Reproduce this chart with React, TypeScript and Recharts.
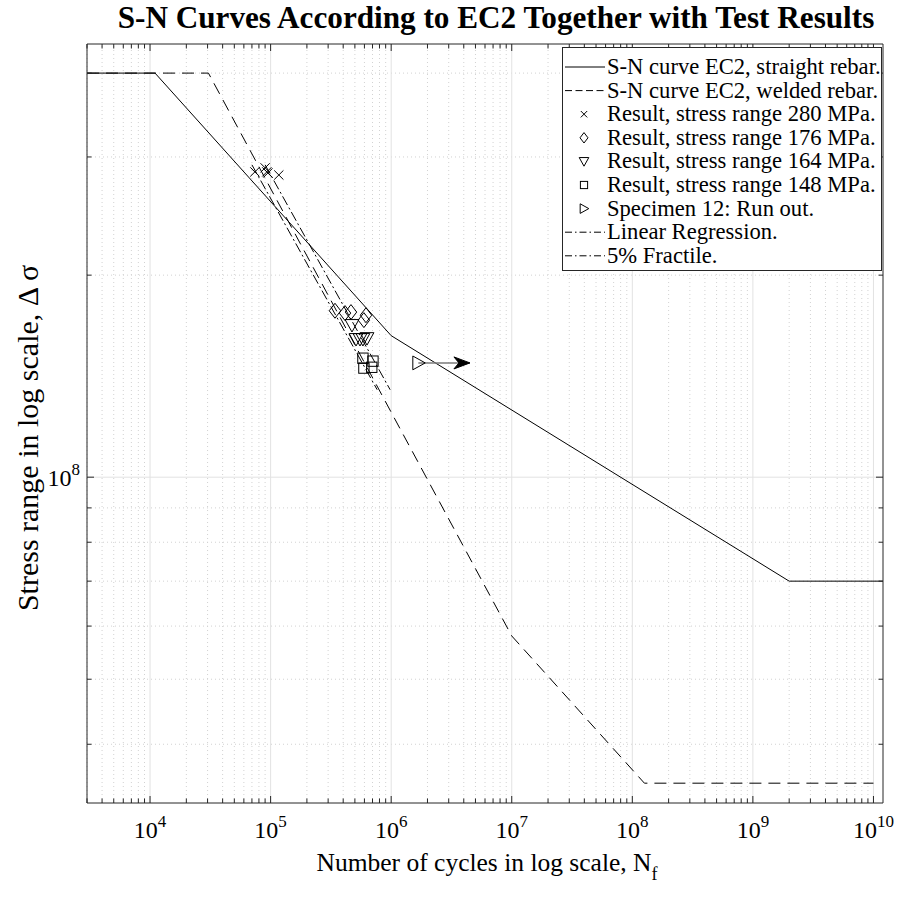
import React from "react";
import {
  ComposedChart,
  Line,
  Scatter,
  XAxis,
  YAxis,
  ReferenceLine,
  Legend,
} from "recharts";

const FONT = '"Liberation Serif", "Times New Roman", serif';
const INK = "#262626";

// axes
const xDomain = [3e3, 1.2e10];
const yDomain = [3.27e7, 4.42e8];
const xMajor = [1e4, 1e5, 1e6, 1e7, 1e8, 1e9, 1e10];
const xDecades = [1e3, 1e4, 1e5, 1e6, 1e7, 1e8, 1e9];
const minorSteps = [2, 3, 4, 5, 6, 7, 8, 9];
const xMinor = xDecades
  .flatMap((d) => minorSteps.map((m) => m * d))
  .filter((v) => v >= xDomain[0] && v <= xDomain[1]);
const yMajor = [1e8];
const yMinor = [4e7, 5e7, 6e7, 7e7, 8e7, 9e7, 2e8, 3e8, 4e8];

// EC2 S-N curves
const straightN = [3e3, 1.1e4, 1e6, 2e9, 1.2e10];
const straightS = [4e8, 4e8, 1.625e8, 7e7, 7e7];
const weldedN = [3e3, 3.05e4, 1e7, 1.26e8, 1e10];
const weldedS = [4e8, 4e8, 5.8e7, 3.5e7, 3.5e7];

// test results
const s280N = [7.4e4, 9.0e4, 9.3e4, 9.5e4, 1.17e5];
const s280S = [2.85e8, 2.89e8, 2.85e8, 2.84e8, 2.82e8];
const s176N = [3.42e5, 4.14e5, 4.64e5, 5.94e5, 6.18e5];
const s176S = [1.77e8, 1.756e8, 1.762e8, 1.714e8, 1.743e8];
const s164N = [4.73e5, 5.11e5, 5.51e5, 5.83e5, 6.3e5];
const s164S = [1.685e8, 1.606e8, 1.606e8, 1.606e8, 1.611e8];
const s148N = [5.83e5, 5.94e5, 7.06e5, 6.9e5];
const s148S = [1.504e8, 1.454e8, 1.489e8, 1.458e8];
const runoutN = [1.68e6];
const runoutS = [1.48e8];
const arrowN = [1.68e6, 4.5e6];
const arrowS = [1.48e8, 1.48e8];

// fits
const regN = [9.0e4, 9.8e5];
const regS = [2.92e8, 1.35e8];
const fracN = [7.0e4, 7.65e5];
const fracS = [2.92e8, 1.35e8];

const legendRows = [
  { label: "S-N curve EC2, straight rebar.", kind: "solid" },
  { label: "S-N curve EC2, welded rebar.", kind: "dashed" },
  { label: "Result, stress range 280 MPa.", kind: "x" },
  { label: "Result, stress range 176 MPa.", kind: "diamond" },
  { label: "Result, stress range 164 MPa.", kind: "tridown" },
  { label: "Result, stress range 148 MPa.", kind: "square" },
  { label: "Specimen 12: Run out.", kind: "triright" },
  { label: "Linear Regression.", kind: "dashdot" },
  { label: "5% Fractile.", kind: "dashdot" },
];

const pts = (xs: number[], ys: number[]) => xs.map((x, i) => ({ x, y: ys[i] }));

const DASH = "12 7";
const DASHDOT = "10 3 2 3";

function Marker({ kind, cx, cy, s = 1 }: any) {
  const common = { stroke: "#000", strokeWidth: 1, fill: "none" };
  if (kind === "x") {
    const r = 4 * s;
    return (
      <path
        {...common}
        d={`M${cx - r},${cy - r}L${cx + r},${cy + r}M${cx - r},${cy + r}L${cx + r},${cy - r}`}
      />
    );
  }
  if (kind === "diamond") {
    const w = 5 * s, h = 6.5 * s;
    return <path {...common} d={`M${cx},${cy - h}L${cx + w},${cy}L${cx},${cy + h}L${cx - w},${cy}Z`} />;
  }
  if (kind === "tridown") {
    const r = 6 * s;
    return <path {...common} d={`M${cx - r},${cy - r * 0.8}L${cx + r},${cy - r * 0.8}L${cx},${cy + r}Z`} />;
  }
  if (kind === "square") {
    const r = 4.5 * s;
    return <rect {...common} x={cx - r} y={cy - r} width={2 * r} height={2 * r} />;
  }
  if (kind === "triright") {
    const r = 6 * s;
    return <path {...common} d={`M${cx - r * 0.8},${cy - r}L${cx + r},${cy}L${cx - r * 0.8},${cy + r}Z`} />;
  }
  return <g />;
}

const shape = (kind: string) => (p: any) => <Marker kind={kind} cx={p.cx} cy={p.cy} s={1.15} />;

const isMajorX = (v: number) => xMajor.includes(v);
const isMajorY = (v: number) => yMajor.includes(v);
const expOf = (v: number) => Math.round(Math.log10(v));

function BottomTick({ x, y, payload }: any) {
  const major = isMajorX(payload.value);
  return (
    <g>
      <line x1={x} x2={x} y1={y} y2={y - (major ? 7 : 4.5)} stroke={INK} />
      {major && (
        <text x={x} y={y + 35} textAnchor="middle" fontFamily={FONT} fontSize={24} fill="#000">
          10
          <tspan dy={-11} fontSize={17}>
            {expOf(payload.value)}
          </tspan>
        </text>
      )}
    </g>
  );
}

function TopTick({ x, y, payload }: any) {
  const major = isMajorX(payload.value);
  return <line x1={x} x2={x} y1={y} y2={y + (major ? 7 : 4.5)} stroke={INK} />;
}

function LeftTick({ x, y, payload }: any) {
  const major = isMajorY(payload.value);
  return (
    <g>
      <line x1={x} x2={x + (major ? 7 : 4.5)} y1={y} y2={y} stroke={INK} />
      {major && (
        <text x={x - 7} y={y + 9} textAnchor="end" fontFamily={FONT} fontSize={24} fill="#000">
          10
          <tspan dy={-11} fontSize={17}>
            {expOf(payload.value)}
          </tspan>
        </text>
      )}
    </g>
  );
}

function RightTick({ x, y, payload }: any) {
  const major = isMajorY(payload.value);
  return <line x1={x} x2={x - (major ? 7 : 4.5)} y1={y} y2={y} stroke={INK} />;
}

function ArrowDot(p: any) {
  if (p.index !== 1) return <g key={`a${p.index}`} />;
  const { cx, cy } = p;
  return (
    <path
      key="arrowhead"
      d={`M${cx},${cy}L${cx - 16},${cy - 6}L${cx - 11},${cy}L${cx - 16},${cy + 6}Z`}
      fill="#000"
      stroke="#000"
    />
  );
}

function LegendBox() {
  const w = 320, h = 224;
  return (
    <svg width={w} height={h} style={{ display: "block" }}>
      <rect x={0.5} y={0.5} width={w - 1} height={h - 1} fill="#fff" stroke={INK} />
      {legendRows.map((r, i) => {
        const cy = 20 + i * 23.6;
        const lineKinds = ["solid", "dashed", "dashdot"];
        return (
          <g key={r.label}>
            {lineKinds.includes(r.kind) ? (
              <line
                x1={3}
                x2={43}
                y1={cy}
                y2={cy}
                stroke="#000"
                strokeDasharray={r.kind === "dashed" ? "7 3.5" : r.kind === "dashdot" ? "7 3 1.5 3" : undefined}
              />
            ) : (
              <Marker kind={r.kind} cx={22} cy={cy} s={0.8} />
            )}
            <text x={45} y={cy + 7} fontFamily={FONT} fontSize={22.6} fill="#000">
              {r.label}
            </text>
          </g>
        );
      })}
    </svg>
  );
}

export default function App() {
  const allX = [...xMajor, ...xMinor].sort((a, b) => a - b);
  const allY = [...yMinor, ...yMajor].sort((a, b) => a - b);
  const axisCommon = {
    type: "number" as const,
    scale: "log" as const,
    allowDataOverflow: true,
    interval: 0 as const,
    tickSize: 0,
    tickMargin: 0,
    tickLine: false,
    axisLine: { stroke: INK, strokeWidth: 1 },
  };
  return (
    <div style={{ position: "absolute", left: 0, top: 0, width: 907, height: 913, background: "#fff" }}>
      <ComposedChart width={907} height={913} margin={{ top: 43, right: 23, bottom: 109, left: 86 }}>
        {xMinor.map((v) => (
          <ReferenceLine key={`gx${v}`} x={v} stroke="#d2d2d2" strokeDasharray="1 3" />
        ))}
        {yMinor.map((v) => (
          <ReferenceLine key={`gy${v}`} y={v} stroke="#d2d2d2" strokeDasharray="1 3" />
        ))}
        {xMajor.map((v) => (
          <ReferenceLine key={`GX${v}`} x={v} stroke="#e2e2e2" />
        ))}
        {yMajor.map((v) => (
          <ReferenceLine key={`GY${v}`} y={v} stroke="#e2e2e2" />
        ))}
        <XAxis {...axisCommon} dataKey="x" domain={xDomain} ticks={allX} height={1} tick={(p: any) => <BottomTick {...p} />} />
        <XAxis {...axisCommon} xAxisId="top" orientation="top" dataKey="x" domain={xDomain} ticks={allX} height={1} tick={(p: any) => <TopTick {...p} />} />
        <YAxis {...axisCommon} dataKey="y" domain={yDomain} ticks={allY} width={1} tick={(p: any) => <LeftTick {...p} />} />
        <YAxis {...axisCommon} yAxisId="right" orientation="right" dataKey="y" domain={yDomain} ticks={allY} width={1} tick={(p: any) => <RightTick {...p} />} />

        <Line data={pts(straightN, straightS)} dataKey="y" stroke="#000" strokeWidth={1} dot={false} activeDot={false} isAnimationActive={false} />
        <Line data={pts(weldedN, weldedS)} dataKey="y" stroke="#000" strokeWidth={1} strokeDasharray={DASH} dot={false} activeDot={false} isAnimationActive={false} />
        <Line data={pts(regN, regS)} dataKey="y" stroke="#000" strokeWidth={1} strokeDasharray={DASHDOT} dot={false} activeDot={false} isAnimationActive={false} />
        <Line data={pts(fracN, fracS)} dataKey="y" stroke="#000" strokeWidth={1} strokeDasharray={DASHDOT} dot={false} activeDot={false} isAnimationActive={false} />
        <Line data={pts(arrowN, arrowS)} dataKey="y" stroke="#7a7a7a" strokeWidth={1.5} dot={ArrowDot} activeDot={false} isAnimationActive={false} />

        <Scatter data={pts(s280N, s280S)} shape={shape("x")} isAnimationActive={false} />
        <Scatter data={pts(s176N, s176S)} shape={shape("diamond")} isAnimationActive={false} />
        <Scatter data={pts(s164N, s164S)} shape={shape("tridown")} isAnimationActive={false} />
        <Scatter data={pts(s148N, s148S)} shape={shape("square")} isAnimationActive={false} />
        <Scatter data={pts(runoutN, runoutS)} shape={shape("triright")} isAnimationActive={false} />

        <Legend
          layout="vertical"
          align="center"
          verticalAlign="middle"
          wrapperStyle={{ left: 562, top: 47, width: "auto", height: "auto" }}
          content={() => <LegendBox />}
        />
      </ComposedChart>
      <svg width={907} height={913} style={{ position: "absolute", left: 0, top: 0, pointerEvents: "none" }}>
        <text x={496} y={28} textAnchor="middle" fontFamily={FONT} fontWeight="bold" fontSize={31.2} fill="#000">
          S-N Curves According to EC2 Together with Test Results
        </text>
        <text x={487} y={871} textAnchor="middle" fontFamily={FONT} fontSize={25.5} fill="#000">
          Number of cycles in log scale, N
          <tspan dy={9} fontSize={18}>f</tspan>
        </text>
        <text
          x={0}
          y={0}
          transform="translate(38,438) rotate(-90)"
          textAnchor="middle"
          fontFamily={FONT}
          fontSize={30}
          fill="#000"
        >
          Stress range in log scale, Δ σ
        </text>
      </svg>
    </div>
  );
}
